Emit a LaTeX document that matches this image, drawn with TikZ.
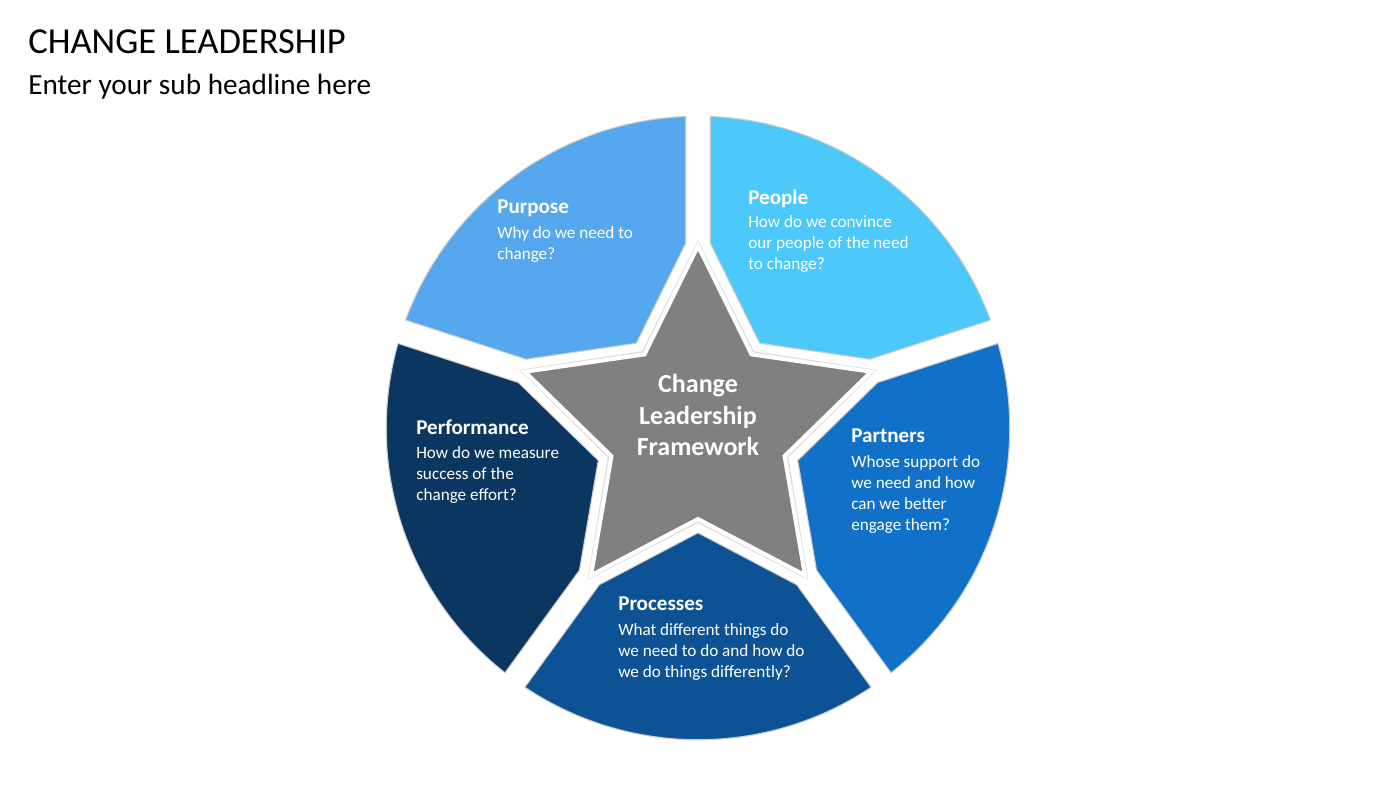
\documentclass[tikz,border=0pt]{standalone}
\usepackage{fontspec}
\setmainfont{Carlito}
\definecolor{cpurpose}{RGB}{86,168,238}
\definecolor{cpeople}{RGB}{76,200,250}
\definecolor{cpartners}{RGB}{17,112,200}
\definecolor{cprocesses}{RGB}{14,82,150}
\definecolor{cperformance}{RGB}{11,54,95}
\definecolor{cstar}{RGB}{128,128,128}
\tikzset{
  headtxt/.style={anchor=north west,inner sep=0pt,text=white,font=\fontsize{15}{18}\selectfont\bfseries},
  bodytxt/.style={anchor=north west,inner sep=0pt,text=white,align=left,font=\fontsize{12.2}{15}\selectfont},
}
\newcommand{\segpath}[1]{(-#1:182) -- (-#1:324) arc[start angle=-#1,end angle=-#1-72,radius=324] -- (-#1-72:182) -- (-#1-36:91) -- cycle}
\newcommand{\segment}[2]{% start angle, colour
  \begin{scope}
    \clip \segpath{#1};
    \path[fill=#2,draw=gray!40,line width=0.64cm] \segpath{#1};
    \path[draw=white,line width=0.58cm] \segpath{#1};
  \end{scope}
  \path[draw=white,line width=0.12cm] \segpath{#1};
}
\begin{document}
\begin{tikzpicture}[x=0.025cm,y=-0.025cm]
\useasboundingbox[fill=white] (0,0) rectangle (1400,788);
\node[anchor=west,inner sep=0pt,font=\fontsize{26}{30}\selectfont] (title) at (28,42) {CHANGE LEADERSHIP};
\node[anchor=west,inner sep=0pt,font=\fontsize{20.8}{24}\selectfont] (sub) at (28,87) {Enter your sub headline here};
\begin{scope}[shift={(698,428)}]
  \segment{90}{cpurpose}
  \segment{162}{cperformance}
  \segment{234}{cprocesses}
  \segment{306}{cpartners}
  \segment{378}{cpeople}
  % star
  \path[fill=gray!25] (-90:188) \foreach \a in {90,162,...,378} {-- (-\a:188) -- (-\a-36:95)} -- cycle;
  \path[fill=cstar,draw=white,line width=0.1cm] (-90:182) \foreach \a in {90,162,...,378} {-- (-\a:182) -- (-\a-36:91)} -- cycle;
\end{scope}
\node[align=center,text=white,font=\fontsize{18.5}{22.5}\selectfont\bfseries] (star) at (698,415) {Change\\Leadership\\Framework};
\node[headtxt] (purpose) at (497,200) {Purpose};
\node[bodytxt] (purposetxt) at (497,226) {Why do we need to\\change?};
\node[headtxt] (people) at (748,189) {People};
\node[bodytxt] (peopletxt) at (748,215) {How do we convince\\our people of the need\\to change?};
\node[headtxt] (partners) at (851,429) {Partners};
\node[bodytxt] (partnerstxt) at (851,455) {Whose support do\\we need and how\\can we better\\engage them?};
\node[headtxt] (processes) at (618,597) {Processes};
\node[bodytxt] (processestxt) at (618,623) {What different things do\\we need to do and how do\\we do things differently?};
\node[headtxt] (performance) at (416,420) {Performance};
\node[bodytxt] (performancetxt) at (416,446) {How do we measure\\success of the\\change effort?};
\end{tikzpicture}
\end{document}
